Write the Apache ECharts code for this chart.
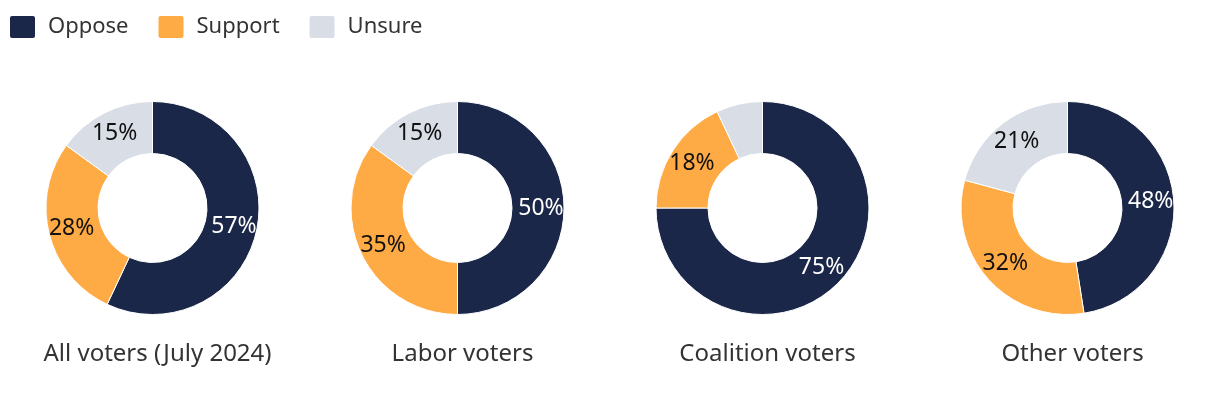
<!DOCTYPE html>
<html>
<head>
<meta charset="utf-8">
<script src="https://cdn.jsdelivr.net/npm/echarts@6/dist/echarts.min.js"></script>
<style>html,body{margin:0;padding:0;background:#fff}#c{width:1220px;height:402px}</style>
</head>
<body>
<div id="c"></div>
<script>
const categories = ['Oppose', 'Support', 'Unsure'];
const groups = ['All voters (July 2024)', 'Labor voters', 'Coalition voters', 'Other voters'];
const allVoters = [57, 28, 15];
const laborVoters = [50, 35, 15];
const coalitionVoters = [75, 18, 7];
const otherVoters = [48, 32, 21];
const seriesValues = [allVoters, laborVoters, coalitionVoters, otherVoters];

const colors = ['#1b2748', '#ffab45', '#d9dde6'];
const labelColors = ['#ffffff', '#111111', '#111111'];
const font = 'Noto Sans';
const centersX = ['12.5%', '37.5%', '62.5%', '87.5%'];

const chart = echarts.init(document.getElementById('c'));
chart.setOption({
  animation: false,
  color: colors,
  textStyle: { fontFamily: font },
  legend: {
    left: 3, top: 9,
    itemWidth: 27, itemHeight: 24, itemGap: 28,
    icon: 'path://M3,0 H24 Q27,0 27,3 V21 Q27,24 24,24 H3 Q0,24 0,21 V3 Q0,0 3,0 Z',
    textStyle: { fontSize: 22, color: '#333', fontFamily: font, padding: [0, 0, 0, 7] },
    data: categories
  },
  title: groups.map((g, i) => ({
    text: g, left: centersX[i], top: 337, textAlign: 'center',
    textStyle: { fontSize: 24, fontWeight: 'normal', color: '#333', fontFamily: font }
  })),
  series: seriesValues.map((vals, i) => ({
    type: 'pie',
    center: [centersX[i], 208],
    radius: [54.5, 106.5],
    startAngle: 90,
    clockwise: true,
    avoidLabelOverlap: false,
    itemStyle: { borderColor: '#fff', borderWidth: 1 },
    label: {
      position: 'inside', fontSize: 23, fontFamily: font,
      formatter: p => p.value >= 10 ? p.value + '%' : ''
    },
    labelLine: { show: false },
    emphasis: { disabled: true },
    data: vals.map((v, j) => ({
      name: categories[j], value: v,
      label: { color: labelColors[j] }
    }))
  }))
});
</script>
</body>
</html>
